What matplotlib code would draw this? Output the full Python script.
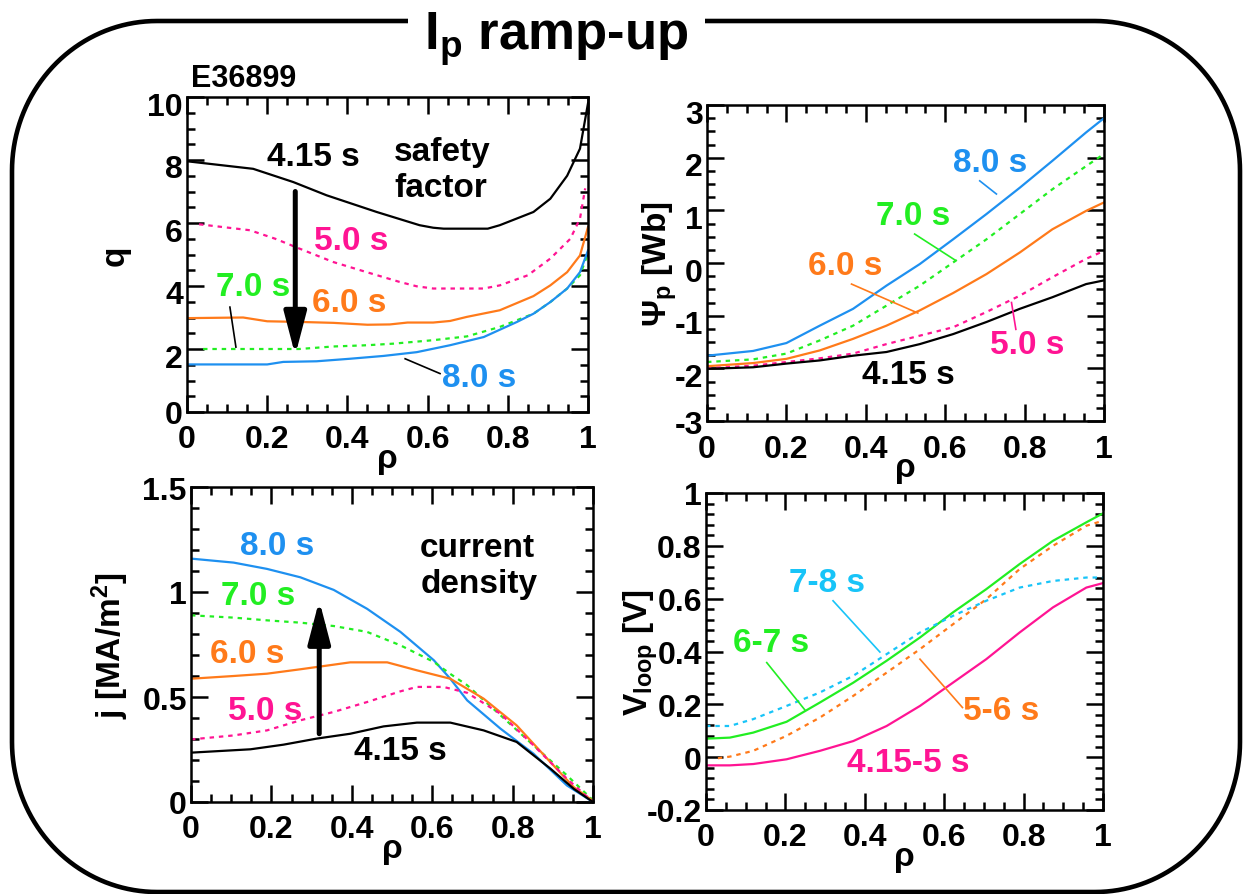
import numpy as np
import matplotlib
matplotlib.use("Agg")
import matplotlib.pyplot as plt
from matplotlib.ticker import MultipleLocator, FuncFormatter
from matplotlib.lines import Line2D
from matplotlib.transforms import ScaledTranslation

# ---------------- data ----------------
# safety factor q(rho)
q_415_rho = [0, 0.165, 0.265, 0.348, 0.473, 0.58, 0.614, 0.64, 0.75, 0.78, 0.864, 0.906, 0.948, 0.98, 1.0]
q_415 = [7.96, 7.72, 7.3, 6.88, 6.35, 5.93, 5.85, 5.82, 5.82, 5.93, 6.35, 6.77, 7.5, 8.36, 9.8]
q_50_rho = [0.03, 0.157, 0.22, 0.28, 0.365, 0.448, 0.53, 0.573, 0.614, 0.74, 0.78, 0.85, 0.906, 0.956, 0.98, 0.993]
q_50 = [5.96, 5.77, 5.5, 5.19, 4.76, 4.44, 4.13, 3.99, 3.92, 3.92, 4.02, 4.34, 4.87, 5.5, 6.14, 7.1]
q_60_rho = [0, 0.14, 0.2, 0.28, 0.365, 0.45, 0.506, 0.55, 0.614, 0.656, 0.698, 0.78, 0.864, 0.906, 0.948, 0.98, 1.0]
q_60 = [2.98, 3.0, 2.88, 2.86, 2.83, 2.77, 2.78, 2.84, 2.84, 2.89, 3.02, 3.23, 3.68, 4.02, 4.44, 4.97, 5.87]
q_70_rho = [0.04, 0.28, 0.365, 0.45, 0.515, 0.614, 0.698, 0.78, 0.864, 0.906, 0.948, 0.98, 0.998]
q_70 = [2.0, 2.0, 2.08, 2.12, 2.17, 2.28, 2.40, 2.70, 3.12, 3.49, 3.92, 4.34, 4.97]
q_80_rho = [0, 0.2, 0.24, 0.323, 0.406, 0.49, 0.573, 0.656, 0.74, 0.823, 0.864, 0.906, 0.948, 0.98, 1.0]
q_80 = [1.51, 1.51, 1.59, 1.61, 1.69, 1.78, 1.90, 2.12, 2.38, 2.86, 3.12, 3.49, 3.92, 4.44, 5.13]

# poloidal flux Psi_p(rho)
psi_rho = [0, 0.116, 0.2, 0.284, 0.368, 0.452, 0.536, 0.62, 0.704, 0.788, 0.87, 0.955, 1.0]
psi_80 = [-1.76, -1.67, -1.52, -1.19, -0.87, -0.43, -0.02, 0.45, 0.93, 1.43, 1.94, 2.48, 2.75]
psi_70 = [-1.88, -1.83, -1.72, -1.47, -1.19, -0.81, -0.43, 0.01, 0.45, 0.93, 1.40, 1.84, 2.07]
psi_60 = [-1.96, -1.90, -1.82, -1.66, -1.44, -1.19, -0.90, -0.57, -0.21, 0.20, 0.64, 0.99, 1.15]
psi_50 = [-2.00, -1.95, -1.88, -1.81, -1.72, -1.54, -1.38, -1.22, -0.93, -0.62, -0.27, 0.08, 0.23]
psi_415 = [-2.01, -1.98, -1.91, -1.85, -1.76, -1.69, -1.54, -1.35, -1.12, -0.87, -0.65, -0.40, -0.33]

# current density j(rho) [MA/m^2]
j_80_rho = [0, 0.106, 0.189, 0.272, 0.355, 0.438, 0.521, 0.604, 0.645, 0.687, 0.77, 0.852, 0.935, 1.0]
j_80 = [1.159, 1.14, 1.11, 1.07, 1.01, 0.92, 0.81, 0.675, 0.587, 0.484, 0.349, 0.23, 0.079, 0.0]
j_70_rho = [0, 0.106, 0.189, 0.272, 0.355, 0.438, 0.521, 0.604, 0.645, 0.687, 0.77, 0.852, 0.935, 1.0]
j_70 = [0.889, 0.878, 0.865, 0.854, 0.838, 0.81, 0.746, 0.667, 0.61, 0.556, 0.413, 0.27, 0.127, 0.008]
j_60_rho = [0, 0.106, 0.189, 0.272, 0.355, 0.396, 0.488, 0.562, 0.645, 0.728, 0.81, 0.894, 0.952, 1.0]
j_60 = [0.587, 0.6, 0.611, 0.632, 0.654, 0.665, 0.665, 0.627, 0.587, 0.492, 0.365, 0.19, 0.071, 0.005]
j_50_rho = [0, 0.106, 0.189, 0.272, 0.355, 0.438, 0.521, 0.562, 0.628, 0.687, 0.77, 0.852, 0.935, 1.0]
j_50 = [0.298, 0.317, 0.341, 0.389, 0.429, 0.476, 0.527, 0.548, 0.548, 0.52, 0.42, 0.27, 0.111, 0.0]
j_415_rho = [0, 0.148, 0.23, 0.313, 0.396, 0.479, 0.562, 0.645, 0.728, 0.81, 0.894, 0.952, 1.0]
j_415 = [0.235, 0.251, 0.273, 0.302, 0.325, 0.36, 0.378, 0.378, 0.341, 0.286, 0.159, 0.063, 0.0]

# loop voltage V_loop(rho) [V]
v_rho = [0, 0.06, 0.119, 0.203, 0.287, 0.371, 0.455, 0.539, 0.622, 0.706, 0.79, 0.874, 0.958, 1.0]
v_67 = [0.070, 0.074, 0.093, 0.134, 0.207, 0.282, 0.365, 0.453, 0.548, 0.636, 0.731, 0.819, 0.889, 0.923]
v_78 = [0.118, 0.118, 0.144, 0.194, 0.245, 0.308, 0.390, 0.472, 0.535, 0.592, 0.642, 0.667, 0.680, 0.680]
v_4155 = [-0.031, -0.031, -0.026, -0.008, 0.024, 0.061, 0.118, 0.194, 0.282, 0.371, 0.472, 0.567, 0.642, 0.659]
v_56_rho = [0.03, 0.06, 0.119, 0.203, 0.287, 0.371, 0.455, 0.539, 0.622, 0.706, 0.79, 0.874, 0.958, 1.0]
v_56 = [-0.004, 0.002, 0.024, 0.081, 0.150, 0.232, 0.320, 0.409, 0.503, 0.598, 0.712, 0.800, 0.876, 0.895]

# ---------------- style ----------------
plt.rcParams["font.family"] = ["Liberation Sans", "DejaVu Sans"]
plt.rcParams["font.weight"] = "bold"
plt.rcParams["mathtext.default"] = "regular"
plt.rcParams["axes.unicode_minus"] = False

BLACK = "black"
PINK = "#FF1493"
ORANGE = "#FF7A1A"
GREEN = "#22EE22"
BLUE = "#1E90F0"
CYAN = "#18C4F8"

LW = 1.6
DOT = (0, (2.0, 2.2))
TICK_FS = 23
LAB_FS = 24

W, H = 1243, 895
fig = plt.figure(figsize=(W / 100, H / 100), dpi=100)


def px_rect(l, t, r, b):
    return [l / W, 1 - b / H, (r - l) / W, (b - t) / H]


def fmt(v, _):
    v = round(v, 6) + 0.0
    if v == 0:
        return "0"
    return f"{v:g}"


def setup(ax, ylim, ymaj, ymin, ylab_shift_px=0):
    ax.set_xlim(0, 1)
    ax.set_ylim(*ylim)
    ax.xaxis.set_major_locator(MultipleLocator(0.2))
    ax.xaxis.set_minor_locator(MultipleLocator(0.05))
    ax.yaxis.set_major_locator(MultipleLocator(ymaj))
    ax.yaxis.set_minor_locator(MultipleLocator(ymin))
    ax.xaxis.set_major_formatter(FuncFormatter(fmt))
    ax.yaxis.set_major_formatter(FuncFormatter(fmt))
    ax.tick_params(which="both", direction="in", top=True, right=True,
                   width=1.8, labelsize=TICK_FS)
    ax.tick_params(which="major", length=12)
    ax.tick_params(which="minor", length=6)
    ax.tick_params(axis="x", pad=9)
    ax.tick_params(axis="y", pad=3)
    for s in ax.spines.values():
        s.set_linewidth(1.8)
    if ylab_shift_px:
        # nudge the y tick labels slightly downward (all but the lowest one)
        off = ScaledTranslation(0, -ylab_shift_px / 100, fig.dpi_scale_trans)
        locs = ax.yaxis.get_majorticklocs()
        for tk, loc in zip(ax.yaxis.get_major_ticks(len(locs)), locs):
            if loc > ylim[0] + 1e-9:
                tk.label1.set_transform(tk.label1.get_transform() + off)


def xlabel(ax, height_px):
    ax.text(0.5, -55 / height_px, "ρ", transform=ax.transAxes, ha="center",
            va="baseline", fontsize=LAB_FS, fontweight="bold")


def ylabel(ax, x_frac, text):
    ax.text(x_frac, 0.5, text, transform=ax.transAxes, rotation=90,
            ha="center", va="center", fontsize=LAB_FS, fontweight="bold")


def label(ax, x, y, s, c, **kw):
    ax.text(x, y, s, color=c, fontsize=LAB_FS, fontweight="bold",
            ha=kw.pop("ha", "center"), va=kw.pop("va", "center"), **kw)


def leader(ax, p0, p1, c):
    ax.plot([p0[0], p1[0]], [p0[1], p1[1]], color=c, lw=1.2)


def arrow(ax, x, y0, y1):
    ax.annotate("", xy=(x, y1), xytext=(x, y0),
                arrowprops=dict(arrowstyle="-|>,head_length=1.3,head_width=0.34",
                                mutation_scale=20, lw=3.6, color="black",
                                shrinkA=0, shrinkB=0))


# ---------------- panel: safety factor ----------------
ax1 = fig.add_axes(px_rect(187, 98, 588, 413))
setup(ax1, (0, 10), 2, 0.5, ylab_shift_px=6)
ax1.plot(q_415_rho, q_415, color=BLACK, lw=LW)
ax1.plot(q_50_rho, q_50, color=PINK, lw=LW, ls=DOT)
ax1.plot(q_60_rho, q_60, color=ORANGE, lw=LW)
ax1.plot(q_70_rho, q_70, color=GREEN, lw=LW, ls=DOT)
ax1.plot(q_80_rho, q_80, color=BLUE, lw=LW)
label(ax1, 0.314, 8.1, "4.15 s", BLACK)
label(ax1, 0.516, 7.7, "safety\nfactor", BLACK, ha="left", linespacing=1.2)
label(ax1, 0.409, 5.43, "5.0 s", PINK)
label(ax1, 0.405, 3.49, "6.0 s", ORANGE)
label(ax1, 0.164, 4.0, "7.0 s", GREEN)
label(ax1, 0.728, 1.1, "8.0 s", BLUE)
leader(ax1, (0.107, 3.33), (0.122, 2.06), BLACK)
leader(ax1, (0.544, 1.69), (0.631, 1.22), BLACK)
arrow(ax1, 0.27, 7.0, 1.8)
xlabel(ax1, 315)
ylabel(ax1, -0.18, "q")

# ---------------- panel: poloidal flux ----------------
ax2 = fig.add_axes(px_rect(707, 106, 1104, 422))
setup(ax2, (-3, 3), 1, 0.25, ylab_shift_px=6)
ax2.plot(psi_rho, psi_80, color=BLUE, lw=LW)
ax2.plot(psi_rho, psi_70, color=GREEN, lw=LW, ls=DOT)
ax2.plot(psi_rho, psi_60, color=ORANGE, lw=LW)
ax2.plot(psi_rho, psi_50, color=PINK, lw=LW, ls=DOT)
ax2.plot(psi_rho, psi_415, color=BLACK, lw=LW)
label(ax2, 0.712, 1.90, "8.0 s", BLUE)
label(ax2, 0.519, 0.90, "7.0 s", GREEN)
label(ax2, 0.347, -0.05, "6.0 s", ORANGE)
label(ax2, 0.806, -1.54, "5.0 s", PINK)
label(ax2, 0.506, -2.12, "4.15 s", BLACK)
leader(ax2, (0.687, 1.56), (0.729, 1.31), BLUE)
leader(ax2, (0.523, 0.55), (0.624, 0.06), GREEN)
leader(ax2, (0.364, -0.40), (0.531, -0.95), ORANGE)
leader(ax2, (0.767, -0.75), (0.778, -1.26), PINK)
xlabel(ax2, 316)
ylabel(ax2, -0.12, "Ψ$_p$ [Wb]")

# ---------------- panel: current density ----------------
ax3 = fig.add_axes(px_rect(191, 488, 593, 803))
setup(ax3, (0, 1.5), 0.5, 0.1)
ax3.plot(j_80_rho, j_80, color=BLUE, lw=LW)
ax3.plot(j_70_rho, j_70, color=GREEN, lw=LW, ls=DOT)
ax3.plot(j_60_rho, j_60, color=ORANGE, lw=LW)
ax3.plot(j_50_rho, j_50, color=PINK, lw=LW, ls=DOT)
ax3.plot(j_415_rho, j_415, color=BLACK, lw=LW)
label(ax3, 0.214, 1.22, "8.0 s", BLUE)
label(ax3, 0.168, 0.984, "7.0 s", GREEN)
label(ax3, 0.139, 0.706, "6.0 s", ORANGE)
label(ax3, 0.185, 0.437, "5.0 s", PINK)
label(ax3, 0.521, 0.246, "4.15 s", BLACK)
label(ax3, 0.57, 1.127, "current\ndensity", BLACK, ha="left", linespacing=1.2)
arrow(ax3, 0.319, 0.325, 0.96)
xlabel(ax3, 315)
ylabel(ax3, -0.2, "j [MA/m$^2$]")

# ---------------- panel: loop voltage ----------------
ax4 = fig.add_axes(px_rect(706, 494, 1103, 811))
setup(ax4, (-0.2, 1.0), 0.2, 0.04)
ax4.plot(v_rho, v_67, color=GREEN, lw=LW)
ax4.plot(v_56_rho, v_56, color=ORANGE, lw=LW, ls=DOT)
ax4.plot(v_rho, v_78, color=CYAN, lw=LW, ls=DOT)
ax4.plot(v_rho, v_4155, color=PINK, lw=LW)
label(ax4, 0.304, 0.661, "7-8 s", CYAN)
label(ax4, 0.165, 0.434, "6-7 s", GREEN)
label(ax4, 0.744, 0.175, "5-6 s", ORANGE)
label(ax4, 0.509, -0.02, "4.15-5 s", PINK)
leader(ax4, (0.32, 0.592), (0.438, 0.398), CYAN)
leader(ax4, (0.153, 0.358), (0.249, 0.179), GREEN)
leader(ax4, (0.539, 0.371), (0.646, 0.188), ORANGE)
xlabel(ax4, 317)
ylabel(ax4, -0.165, "V$_{loop}$ [V]")

# ---------------- rounded frame with title gap ----------------
x0, y0, x1, y1 = 12, 22, 1240, 893
rx, ry = 145, 150
gap_l, gap_r = 408, 705
t = np.linspace(0, np.pi / 2, 40)
xs = [gap_r, x1 - rx]
ys = [y0, y0]
xs += list(x1 - rx + rx * np.sin(t)); ys += list(y0 + ry - ry * np.cos(t))
xs += list(x1 - rx + rx * np.cos(t)); ys += list(y1 - ry + ry * np.sin(t))
xs += list(x0 + rx - rx * np.sin(t)); ys += list(y1 - ry + ry * np.cos(t))
xs += list(x0 + rx - rx * np.cos(t)); ys += list(y0 + ry - ry * np.sin(t))
xs += [gap_l]; ys += [y0]
fig.add_artist(Line2D(np.array(xs) / W, 1 - np.array(ys) / H,
                      transform=fig.transFigure, color="black", lw=3.3,
                      solid_capstyle="butt", solid_joinstyle="round"))

fig.text(556 / W, 1 - 50 / H, "I$_p$ ramp-up", ha="center", va="baseline",
         fontsize=38, fontweight="bold")
fig.text(191 / W, 1 - 87 / H, "E36899", ha="left", va="baseline",
         fontsize=22, fontweight="bold")

fig.savefig("out.png", dpi=100)
